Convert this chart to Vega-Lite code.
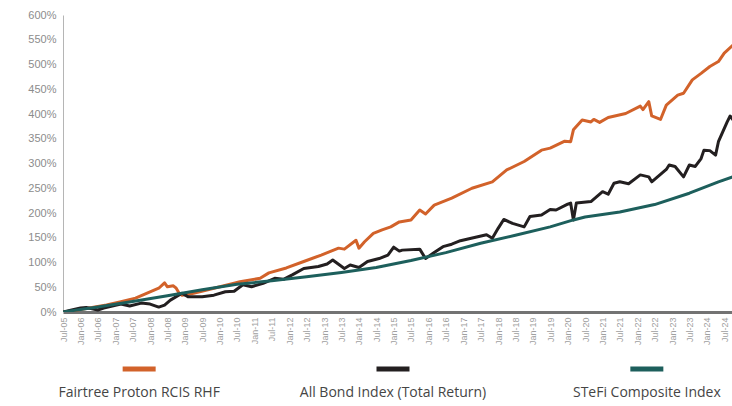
{
  "$schema": "https://vega.github.io/schema/vega-lite/v6.json",
  "autosize": {"type": "pad"},
  "padding": {"left": 27, "top": 9, "right": 0, "bottom": 0},
  "background": "white",
  "config": {"view": {"stroke": null}, "font": "Liberation Sans"},
  "spacing": 19,
  "resolve": {"scale": {"x": "independent", "y": "independent"}},
  "datasets": {
    "legend": [
      {"s": "Fairtree Proton RCIS RHF"},
      {"s": "All Bond Index (Total Return)"},
      {"s": "STeFi Composite Index"}
    ],
    "perf": [
      {"d": "2005-07-01", "s": "Fairtree Proton RCIS RHF", "v": 0},
      {"d": "2005-10-01", "s": "Fairtree Proton RCIS RHF", "v": 2},
      {"d": "2006-01-01", "s": "Fairtree Proton RCIS RHF", "v": 5},
      {"d": "2006-06-01", "s": "Fairtree Proton RCIS RHF", "v": 10},
      {"d": "2006-10-01", "s": "Fairtree Proton RCIS RHF", "v": 14},
      {"d": "2007-03-01", "s": "Fairtree Proton RCIS RHF", "v": 21},
      {"d": "2007-08-01", "s": "Fairtree Proton RCIS RHF", "v": 28},
      {"d": "2007-12-01", "s": "Fairtree Proton RCIS RHF", "v": 38},
      {"d": "2008-04-01", "s": "Fairtree Proton RCIS RHF", "v": 48},
      {"d": "2008-06-01", "s": "Fairtree Proton RCIS RHF", "v": 59},
      {"d": "2008-07-01", "s": "Fairtree Proton RCIS RHF", "v": 51},
      {"d": "2008-09-01", "s": "Fairtree Proton RCIS RHF", "v": 53},
      {"d": "2008-10-01", "s": "Fairtree Proton RCIS RHF", "v": 48},
      {"d": "2008-11-01", "s": "Fairtree Proton RCIS RHF", "v": 38},
      {"d": "2008-12-01", "s": "Fairtree Proton RCIS RHF", "v": 34},
      {"d": "2009-04-01", "s": "Fairtree Proton RCIS RHF", "v": 38},
      {"d": "2009-11-01", "s": "Fairtree Proton RCIS RHF", "v": 48},
      {"d": "2010-06-01", "s": "Fairtree Proton RCIS RHF", "v": 58},
      {"d": "2010-08-01", "s": "Fairtree Proton RCIS RHF", "v": 61},
      {"d": "2011-03-01", "s": "Fairtree Proton RCIS RHF", "v": 68},
      {"d": "2011-06-01", "s": "Fairtree Proton RCIS RHF", "v": 79},
      {"d": "2011-12-01", "s": "Fairtree Proton RCIS RHF", "v": 89},
      {"d": "2012-06-01", "s": "Fairtree Proton RCIS RHF", "v": 102},
      {"d": "2012-12-01", "s": "Fairtree Proton RCIS RHF", "v": 115},
      {"d": "2013-06-01", "s": "Fairtree Proton RCIS RHF", "v": 129},
      {"d": "2013-08-01", "s": "Fairtree Proton RCIS RHF", "v": 127},
      {"d": "2013-12-01", "s": "Fairtree Proton RCIS RHF", "v": 145},
      {"d": "2014-01-01", "s": "Fairtree Proton RCIS RHF", "v": 129},
      {"d": "2014-03-01", "s": "Fairtree Proton RCIS RHF", "v": 142},
      {"d": "2014-06-01", "s": "Fairtree Proton RCIS RHF", "v": 159},
      {"d": "2014-09-01", "s": "Fairtree Proton RCIS RHF", "v": 166},
      {"d": "2014-12-01", "s": "Fairtree Proton RCIS RHF", "v": 172},
      {"d": "2015-03-01", "s": "Fairtree Proton RCIS RHF", "v": 182},
      {"d": "2015-07-01", "s": "Fairtree Proton RCIS RHF", "v": 186},
      {"d": "2015-10-01", "s": "Fairtree Proton RCIS RHF", "v": 206},
      {"d": "2015-12-01", "s": "Fairtree Proton RCIS RHF", "v": 198},
      {"d": "2016-03-01", "s": "Fairtree Proton RCIS RHF", "v": 216},
      {"d": "2016-09-01", "s": "Fairtree Proton RCIS RHF", "v": 230},
      {"d": "2017-04-01", "s": "Fairtree Proton RCIS RHF", "v": 250},
      {"d": "2017-11-01", "s": "Fairtree Proton RCIS RHF", "v": 263},
      {"d": "2018-04-01", "s": "Fairtree Proton RCIS RHF", "v": 287},
      {"d": "2018-10-01", "s": "Fairtree Proton RCIS RHF", "v": 304},
      {"d": "2019-04-01", "s": "Fairtree Proton RCIS RHF", "v": 327},
      {"d": "2019-07-01", "s": "Fairtree Proton RCIS RHF", "v": 331},
      {"d": "2019-12-01", "s": "Fairtree Proton RCIS RHF", "v": 345},
      {"d": "2020-02-01", "s": "Fairtree Proton RCIS RHF", "v": 344},
      {"d": "2020-03-01", "s": "Fairtree Proton RCIS RHF", "v": 368},
      {"d": "2020-06-01", "s": "Fairtree Proton RCIS RHF", "v": 388},
      {"d": "2020-09-01", "s": "Fairtree Proton RCIS RHF", "v": 384},
      {"d": "2020-10-01", "s": "Fairtree Proton RCIS RHF", "v": 389},
      {"d": "2020-12-01", "s": "Fairtree Proton RCIS RHF", "v": 383},
      {"d": "2021-03-01", "s": "Fairtree Proton RCIS RHF", "v": 393},
      {"d": "2021-09-01", "s": "Fairtree Proton RCIS RHF", "v": 401},
      {"d": "2022-02-01", "s": "Fairtree Proton RCIS RHF", "v": 416},
      {"d": "2022-03-01", "s": "Fairtree Proton RCIS RHF", "v": 409},
      {"d": "2022-05-01", "s": "Fairtree Proton RCIS RHF", "v": 425},
      {"d": "2022-06-01", "s": "Fairtree Proton RCIS RHF", "v": 396},
      {"d": "2022-09-01", "s": "Fairtree Proton RCIS RHF", "v": 389},
      {"d": "2022-11-01", "s": "Fairtree Proton RCIS RHF", "v": 418},
      {"d": "2023-03-01", "s": "Fairtree Proton RCIS RHF", "v": 438},
      {"d": "2023-05-01", "s": "Fairtree Proton RCIS RHF", "v": 442},
      {"d": "2023-08-01", "s": "Fairtree Proton RCIS RHF", "v": 469},
      {"d": "2023-11-01", "s": "Fairtree Proton RCIS RHF", "v": 482},
      {"d": "2024-02-01", "s": "Fairtree Proton RCIS RHF", "v": 496},
      {"d": "2024-05-01", "s": "Fairtree Proton RCIS RHF", "v": 506},
      {"d": "2024-07-01", "s": "Fairtree Proton RCIS RHF", "v": 523},
      {"d": "2024-10-01", "s": "Fairtree Proton RCIS RHF", "v": 539},

      {"d": "2005-07-01", "s": "All Bond Index (Total Return)", "v": 0},
      {"d": "2005-10-01", "s": "All Bond Index (Total Return)", "v": 4},
      {"d": "2006-01-01", "s": "All Bond Index (Total Return)", "v": 8},
      {"d": "2006-03-01", "s": "All Bond Index (Total Return)", "v": 9},
      {"d": "2006-07-01", "s": "All Bond Index (Total Return)", "v": 4},
      {"d": "2006-09-01", "s": "All Bond Index (Total Return)", "v": 8},
      {"d": "2007-03-01", "s": "All Bond Index (Total Return)", "v": 16},
      {"d": "2007-06-01", "s": "All Bond Index (Total Return)", "v": 12},
      {"d": "2007-10-01", "s": "All Bond Index (Total Return)", "v": 18},
      {"d": "2008-01-01", "s": "All Bond Index (Total Return)", "v": 16},
      {"d": "2008-04-01", "s": "All Bond Index (Total Return)", "v": 10},
      {"d": "2008-06-01", "s": "All Bond Index (Total Return)", "v": 14},
      {"d": "2008-08-01", "s": "All Bond Index (Total Return)", "v": 24},
      {"d": "2008-12-01", "s": "All Bond Index (Total Return)", "v": 38},
      {"d": "2009-02-01", "s": "All Bond Index (Total Return)", "v": 31},
      {"d": "2009-07-01", "s": "All Bond Index (Total Return)", "v": 31},
      {"d": "2009-11-01", "s": "All Bond Index (Total Return)", "v": 34},
      {"d": "2010-03-01", "s": "All Bond Index (Total Return)", "v": 41},
      {"d": "2010-06-01", "s": "All Bond Index (Total Return)", "v": 42},
      {"d": "2010-09-01", "s": "All Bond Index (Total Return)", "v": 55},
      {"d": "2010-12-01", "s": "All Bond Index (Total Return)", "v": 51},
      {"d": "2011-04-01", "s": "All Bond Index (Total Return)", "v": 58},
      {"d": "2011-08-01", "s": "All Bond Index (Total Return)", "v": 68},
      {"d": "2011-11-01", "s": "All Bond Index (Total Return)", "v": 66},
      {"d": "2012-02-01", "s": "All Bond Index (Total Return)", "v": 75},
      {"d": "2012-06-01", "s": "All Bond Index (Total Return)", "v": 88},
      {"d": "2012-11-01", "s": "All Bond Index (Total Return)", "v": 92},
      {"d": "2013-02-01", "s": "All Bond Index (Total Return)", "v": 97},
      {"d": "2013-04-01", "s": "All Bond Index (Total Return)", "v": 105},
      {"d": "2013-08-01", "s": "All Bond Index (Total Return)", "v": 88},
      {"d": "2013-10-01", "s": "All Bond Index (Total Return)", "v": 95},
      {"d": "2014-01-01", "s": "All Bond Index (Total Return)", "v": 90},
      {"d": "2014-04-01", "s": "All Bond Index (Total Return)", "v": 102},
      {"d": "2014-08-01", "s": "All Bond Index (Total Return)", "v": 108},
      {"d": "2014-11-01", "s": "All Bond Index (Total Return)", "v": 115},
      {"d": "2015-01-01", "s": "All Bond Index (Total Return)", "v": 131},
      {"d": "2015-03-01", "s": "All Bond Index (Total Return)", "v": 123},
      {"d": "2015-04-01", "s": "All Bond Index (Total Return)", "v": 125},
      {"d": "2015-10-01", "s": "All Bond Index (Total Return)", "v": 127},
      {"d": "2015-12-01", "s": "All Bond Index (Total Return)", "v": 108},
      {"d": "2016-03-01", "s": "All Bond Index (Total Return)", "v": 120},
      {"d": "2016-06-01", "s": "All Bond Index (Total Return)", "v": 132},
      {"d": "2016-09-01", "s": "All Bond Index (Total Return)", "v": 137},
      {"d": "2016-12-01", "s": "All Bond Index (Total Return)", "v": 144},
      {"d": "2017-06-01", "s": "All Bond Index (Total Return)", "v": 152},
      {"d": "2017-09-01", "s": "All Bond Index (Total Return)", "v": 156},
      {"d": "2017-11-01", "s": "All Bond Index (Total Return)", "v": 149},
      {"d": "2018-01-01", "s": "All Bond Index (Total Return)", "v": 169},
      {"d": "2018-03-01", "s": "All Bond Index (Total Return)", "v": 187},
      {"d": "2018-06-01", "s": "All Bond Index (Total Return)", "v": 179},
      {"d": "2018-10-01", "s": "All Bond Index (Total Return)", "v": 172},
      {"d": "2018-12-01", "s": "All Bond Index (Total Return)", "v": 193},
      {"d": "2019-04-01", "s": "All Bond Index (Total Return)", "v": 196},
      {"d": "2019-07-01", "s": "All Bond Index (Total Return)", "v": 207},
      {"d": "2019-09-01", "s": "All Bond Index (Total Return)", "v": 206},
      {"d": "2020-01-01", "s": "All Bond Index (Total Return)", "v": 218},
      {"d": "2020-02-01", "s": "All Bond Index (Total Return)", "v": 220},
      {"d": "2020-03-01", "s": "All Bond Index (Total Return)", "v": 186},
      {"d": "2020-04-01", "s": "All Bond Index (Total Return)", "v": 220},
      {"d": "2020-09-01", "s": "All Bond Index (Total Return)", "v": 223},
      {"d": "2021-01-01", "s": "All Bond Index (Total Return)", "v": 243},
      {"d": "2021-03-01", "s": "All Bond Index (Total Return)", "v": 238},
      {"d": "2021-05-01", "s": "All Bond Index (Total Return)", "v": 260},
      {"d": "2021-07-01", "s": "All Bond Index (Total Return)", "v": 263},
      {"d": "2021-10-01", "s": "All Bond Index (Total Return)", "v": 259},
      {"d": "2022-02-01", "s": "All Bond Index (Total Return)", "v": 277},
      {"d": "2022-05-01", "s": "All Bond Index (Total Return)", "v": 273},
      {"d": "2022-06-01", "s": "All Bond Index (Total Return)", "v": 263},
      {"d": "2022-08-01", "s": "All Bond Index (Total Return)", "v": 273},
      {"d": "2022-11-01", "s": "All Bond Index (Total Return)", "v": 288},
      {"d": "2022-12-01", "s": "All Bond Index (Total Return)", "v": 297},
      {"d": "2023-02-01", "s": "All Bond Index (Total Return)", "v": 294},
      {"d": "2023-05-01", "s": "All Bond Index (Total Return)", "v": 273},
      {"d": "2023-07-01", "s": "All Bond Index (Total Return)", "v": 297},
      {"d": "2023-09-01", "s": "All Bond Index (Total Return)", "v": 294},
      {"d": "2023-11-01", "s": "All Bond Index (Total Return)", "v": 310},
      {"d": "2023-12-01", "s": "All Bond Index (Total Return)", "v": 327},
      {"d": "2024-02-01", "s": "All Bond Index (Total Return)", "v": 326},
      {"d": "2024-04-01", "s": "All Bond Index (Total Return)", "v": 317},
      {"d": "2024-05-01", "s": "All Bond Index (Total Return)", "v": 344},
      {"d": "2024-08-01", "s": "All Bond Index (Total Return)", "v": 384},
      {"d": "2024-09-01", "s": "All Bond Index (Total Return)", "v": 396},
      {"d": "2024-10-01", "s": "All Bond Index (Total Return)", "v": 388},

      {"d": "2005-07-01", "s": "STeFi Composite Index", "v": 0},
      {"d": "2006-07-01", "s": "STeFi Composite Index", "v": 10},
      {"d": "2007-07-01", "s": "STeFi Composite Index", "v": 21},
      {"d": "2008-07-01", "s": "STeFi Composite Index", "v": 33},
      {"d": "2009-07-01", "s": "STeFi Composite Index", "v": 45},
      {"d": "2010-07-01", "s": "STeFi Composite Index", "v": 56},
      {"d": "2011-07-01", "s": "STeFi Composite Index", "v": 63},
      {"d": "2012-07-01", "s": "STeFi Composite Index", "v": 71},
      {"d": "2013-07-01", "s": "STeFi Composite Index", "v": 80},
      {"d": "2014-07-01", "s": "STeFi Composite Index", "v": 90},
      {"d": "2015-07-01", "s": "STeFi Composite Index", "v": 104},
      {"d": "2016-07-01", "s": "STeFi Composite Index", "v": 120},
      {"d": "2017-07-01", "s": "STeFi Composite Index", "v": 139},
      {"d": "2018-07-01", "s": "STeFi Composite Index", "v": 155},
      {"d": "2019-07-01", "s": "STeFi Composite Index", "v": 172},
      {"d": "2020-03-01", "s": "STeFi Composite Index", "v": 186},
      {"d": "2020-07-01", "s": "STeFi Composite Index", "v": 192},
      {"d": "2021-07-01", "s": "STeFi Composite Index", "v": 202},
      {"d": "2022-07-01", "s": "STeFi Composite Index", "v": 217},
      {"d": "2023-07-01", "s": "STeFi Composite Index", "v": 240},
      {"d": "2024-05-01", "s": "STeFi Composite Index", "v": 263},
      {"d": "2024-10-01", "s": "STeFi Composite Index", "v": 273}
    ]
  },
  "vconcat": [
    {
      "width": 670,
      "height": 297,
      "data": {"name": "perf"},
      "mark": {"type": "line", "strokeWidth": 3, "strokeJoin": "round", "clip": true},
      "encoding": {
        "x": {
          "field": "d",
          "type": "temporal",
          "scale": {
            "type": "utc",
            "domain": [
              {"year": 2005, "month": 7, "date": 1, "utc": true},
              {"year": 2024, "month": 10, "date": 1, "utc": true}
            ]
          },
          "axis": {
            "title": null,
            "format": "%b-%y",
            "tickCount": {"interval": "month", "step": 6},
            "labelAngle": 270,
            "labelFontSize": 9,
            "labelColor": "#a0a0a0",
            "labelPadding": 5,
            "labelOverlap": false,
            "labelFlush": false,
            "ticks": false,
            "grid": false,
            "domainColor": "#737373",
            "domainWidth": 3
          }
        },
        "y": {
          "field": "v",
          "type": "quantitative",
          "scale": {"domain": [0, 600], "nice": false},
          "axis": {
            "title": null,
            "values": [0, 50, 100, 150, 200, 250, 300, 350, 400, 450, 500, 550, 600],
            "labelExpr": "datum.value + '%'",
            "labelFontSize": 11,
            "labelColor": "#8c8c8c",
            "labelPadding": 7,
            "ticks": false,
            "grid": false,
            "domainColor": "#b5b5b5",
            "domainWidth": 1
          }
        },
        "color": {
          "field": "s",
          "type": "nominal",
          "scale": {
            "domain": ["Fairtree Proton RCIS RHF", "All Bond Index (Total Return)", "STeFi Composite Index"],
            "range": ["#D2622A", "#231F20", "#1D5F5C"]
          },
          "legend": null
        }
      }
    },
    {
      "width": 660,
      "height": 10,
      "data": {"name": "legend"},
      "encoding": {
        "x": {
          "field": "s",
          "type": "nominal",
          "sort": null,
          "scale": {"type": "point", "padding": 0.3, "domain": ["Fairtree Proton RCIS RHF", "All Bond Index (Total Return)", "STeFi Composite Index"]},
          "axis": null
        }
      },
      "layer": [
        {
          "mark": {"type": "tick", "orient": "horizontal", "thickness": 5, "size": 33, "opacity": 1},
          "encoding": {
            "color": {"field": "s", "type": "nominal", "legend": null}
          }
        },
        {
          "mark": {"type": "text", "dy": 24, "fontSize": 14, "font": "Open Sans", "color": "#454545", "baseline": "middle"},
          "encoding": {"text": {"field": "s", "type": "nominal"}}
        }
      ]
    }
  ]
}
